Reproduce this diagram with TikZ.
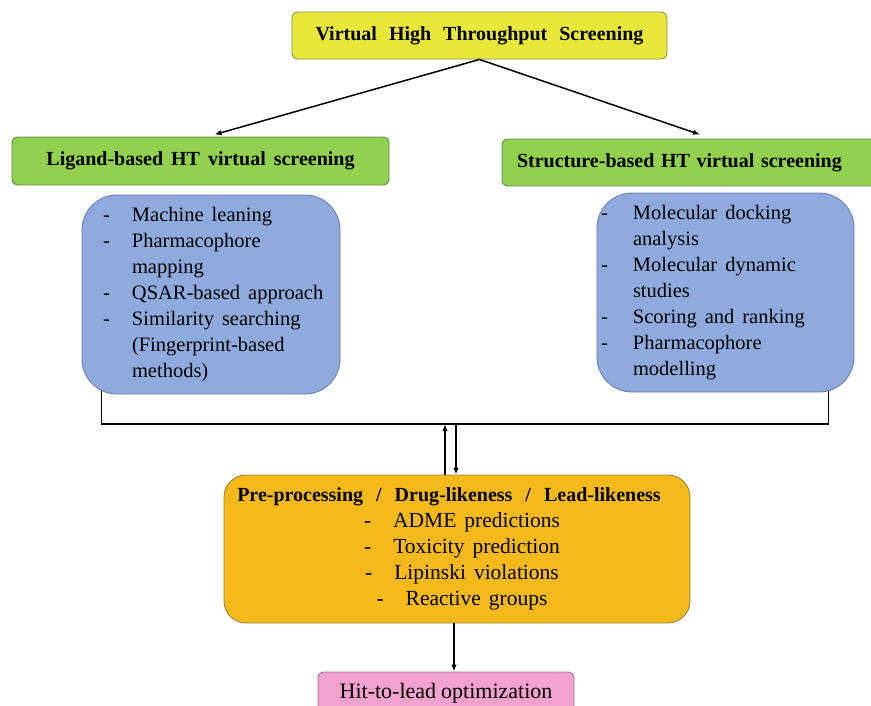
\documentclass[tikz,border=0pt]{standalone}
\usepackage{fontspec}
\usepackage{array}
\setmainfont{Liberation Serif}
\usetikzlibrary{arrows.meta,backgrounds}
\definecolor{cyel}{HTML}{E8E83A}
\definecolor{cgrn}{HTML}{92D050}
\definecolor{cblu}{HTML}{8FAADC}
\definecolor{corg}{HTML}{F5B919}
\definecolor{cpnk}{HTML}{F2A2CC}
\definecolor{lyel}{HTML}{8E8E50}
\definecolor{lgrn}{HTML}{5E8A4A}
\definecolor{lblu}{HTML}{6A7FA8}
\definecolor{lorg}{HTML}{9A8448}
\definecolor{lpnk}{HTML}{8C7C9A}
\newcommand\myhdrfont[1]{\fontsize{20}{24}\selectfont\bfseries\spaceskip=#1\relax}
\newcommand\mybodyfont[2]{\fontsize{#1}{26}\selectfont\spaceskip=#2\relax}
\newcolumntype{W}{>{\spaceskip=8pt\relax}l}
\begin{document}
\begin{tikzpicture}[x=1pt,y=-1pt,
  box/.style={draw=#1, line width=0.9pt, inner sep=0pt, rounded corners=6pt},
  conn/.style={line width=1.5pt, draw=black},
  arr/.style={conn, -{Latex[length=7pt,width=5.5pt]}}]
\useasboundingbox (0,0) rectangle (871,705);

% top
\node[box=lyel, fill=cyel, font={\myhdrfont{12pt}}, minimum width=375pt, minimum height=47pt] (vh) at (479.5,35.5) {Virtual High Throughput Screening};
\node[box=lgrn, fill=cgrn, font={\myhdrfont{8pt}}, minimum width=377pt, minimum height=48pt] (lg) at (200.5,161) {Ligand-based HT virtual screening};
\node[box=lgrn, fill=cgrn, font={\myhdrfont{9pt}}, minimum height=47pt, text width=348pt, inner xsep=15pt, align=left] (rg) at (691,162.5) {Structure-based HT virtual screening};

% blue boxes
\node[box=lblu, fill=cblu, font={\mybodyfont{20.5}{7pt}}, rounded corners=35pt, minimum height=199pt, text width=216pt, inner xsep=21pt, align=left] (lb) at (211,294.5)
 {\begin{tabular}{@{}p{29pt}@{}W@{}}
 - & Machine leaning\\
 - & Pharmacophore\\
   & mapping\\
 - & QSAR-based approach\\
 - & Similarity searching\\
   & (Fingerprint-based\\
   & methods)
 \end{tabular}};
\node[box=lblu, fill=cblu, font={\mybodyfont{20.5}{7pt}}, rounded corners=35pt, minimum height=199pt, text width=249pt, inner xsep=4pt, align=left] (rb) at (725.5,292.5)
 {\begin{tabular}{@{}p{32pt}@{}W@{}}
 - & Molecular docking\\
   & analysis\\
 - & Molecular dynamic\\
   & studies\\
 - & Scoring and ranking\\
 - & Pharmacophore\\
   & modelling
 \end{tabular}};

% orange
\node[box=lorg, fill=corg, font={\mybodyfont{21.5}{8pt}}, rounded corners=22pt, minimum width=466pt, minimum height=148pt, align=center] (or) at (457,549)
 {\hspace*{-16pt}{\bfseries\fontsize{20}{26}\selectfont\spaceskip=13pt\relax Pre-processing / Drug-likeness / Lead-likeness}\\
  \hspace*{10pt}-\hspace{22pt}ADME predictions\\
  \hspace*{10pt}-\hspace{22pt}Toxicity prediction\\
  \hspace*{10pt}-\hspace{22pt}Lipinski violations\\
  \hspace*{10pt}-\hspace{22pt}Reactive groups};

% pink
\node[box=lpnk, fill=cpnk, font={\mybodyfont{22}{5pt}}, minimum width=256pt, minimum height=42pt] (pk) at (446,693) {Hit-to-lead optimization};

\coordinate (barL) at (445,424);
\coordinate (barR) at (456,424);

% connectors
\draw[arr] (vh.south) -- ([xshift=14pt,yshift=2pt]lg.north);
\draw[arr] (vh.south) -- ([xshift=9pt,yshift=4pt]rg.north);
\begin{scope}[on background layer]
\draw[conn] ([xshift=20pt,yshift=20pt]lb.south west) |- (barL) -- (barR) -| ([xshift=-26pt,yshift=20pt]rb.south east);
\end{scope}
\draw[arr] (or.north -| barL) -- (barL);
\draw[arr] (barR) -- (or.north -| barR);
\draw[arr] ([xshift=-3pt]or.south) -- ([xshift=-3pt]or.south |- pk.north);
\end{tikzpicture}
\end{document}
